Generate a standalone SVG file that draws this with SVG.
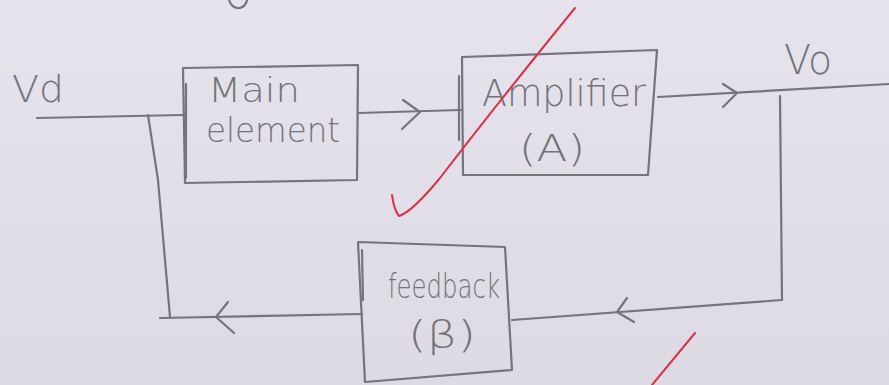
<svg xmlns="http://www.w3.org/2000/svg" width="889" height="385" viewBox="0 0 889 385">
  <defs>
    <linearGradient id="paper" x1="0" y1="0" x2="0" y2="1">
      <stop offset="0" stop-color="#e6e3ec"/>
      <stop offset="1" stop-color="#dedae3"/>
    </linearGradient>
  </defs>
  <style>
    .ink { fill: none; stroke: #75747b; stroke-width: 2.2; stroke-linecap: round; stroke-linejoin: round; }
    .red { fill: none; stroke: #d8324a; stroke-width: 2; stroke-linecap: round; stroke-linejoin: round; }
    .t { font-family: "DejaVu Sans", "Liberation Sans", sans-serif; fill: #737279; font-weight: 300; }
  </style>
  <rect width="889" height="385" fill="url(#paper)"/>

  <!-- partial stroke at the top edge -->
  <path class="ink" d="M229,0 Q232,9 240,8 Q246,6 247,0"/>

  <g id="connectors">
    <!-- input line -->
    <path class="ink" d="M37,118 L183,115"/>
    <!-- branch down to feedback return -->
    <path class="ink" d="M148,115 L158,180 L170,317"/>
    <!-- main -> amplifier -->
    <path class="ink" d="M358,113 L461,110"/>
    <path class="ink" d="M403,100 L420,112 L402,129"/>
    <!-- amplifier -> output -->
    <path class="ink" d="M658,97 L889,84"/>
    <path class="ink" d="M723,84 L737,93 L723,107"/>
    <!-- output down and back to feedback -->
    <path class="ink" d="M780,96 L782,300 L512,320"/>
    <path class="ink" d="M627,298 L617,312 L634,322"/>
    <!-- feedback -> left -->
    <path class="ink" d="M362,314 L160,318"/>
    <path class="ink" d="M228,302 L216,317 L234,333"/>
  </g>

  <g id="node-main">
    <path class="ink" d="M183,68 L358,65 L357,180 L185,183 Z"/>
    <path class="ink" d="M186,84 L186,178"/>
    <text class="t" x="208" y="102" font-size="34" textLength="92" lengthAdjust="spacingAndGlyphs">Main</text>
    <text class="t" x="206" y="142" font-size="34" textLength="134" lengthAdjust="spacingAndGlyphs">element</text>
  </g>

  <g id="node-amplifier">
    <path class="ink" d="M462,57 L657,50 L648,175 L463,175 Z"/>
    <path class="ink" d="M459,76 L459,140"/>
    <text class="t" x="482" y="106" font-size="38" textLength="164" lengthAdjust="spacingAndGlyphs">Amplifier</text>
    <text class="t" x="519" y="161" font-size="38" textLength="66" lengthAdjust="spacingAndGlyphs">(A)</text>
  </g>

  <g id="node-feedback">
    <path class="ink" d="M358,242 L505,247 L512,370 L365,382 Z"/>
    <path class="ink" d="M362,250 L363,300"/>
    <text class="t" x="388" y="298" font-size="34" textLength="112" lengthAdjust="spacingAndGlyphs">feedback</text>
    <text class="t" x="408" y="347" font-size="38" textLength="68" lengthAdjust="spacingAndGlyphs">(β)</text>
  </g>

  <g id="labels">
    <text class="t" x="12" y="102" font-size="38" textLength="52" lengthAdjust="spacingAndGlyphs">Vd</text>
    <text class="t" x="784" y="74" font-size="40" textLength="48" lengthAdjust="spacingAndGlyphs">Vo</text>
  </g>

  <g id="marks">
    <path class="red" d="M575,8 Q500,100 440,178 Q412,212 399,216 Q394,210 392,195"/>
    <path class="red" d="M695,333 L652,385"/>
  </g>
</svg>
